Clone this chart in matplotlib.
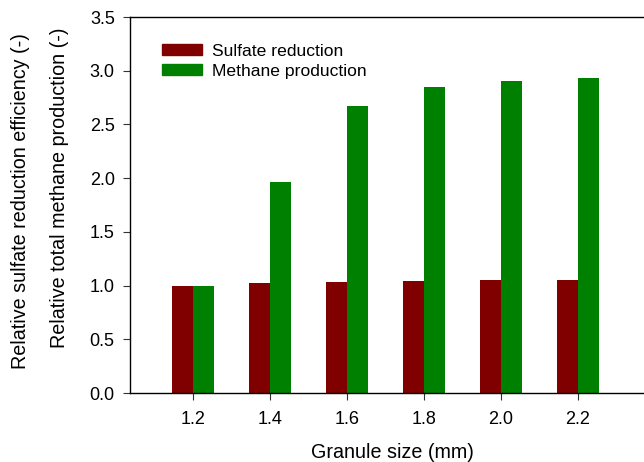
import numpy as np
import matplotlib.pyplot as plt
from matplotlib.patches import Patch

plt.rcParams['font.family'] = ['Liberation Sans', 'DejaVu Sans']

granule_size = [1.2, 1.4, 1.6, 1.8, 2.0, 2.2]
sulfate_reduction = [1.00, 1.02, 1.03, 1.04, 1.05, 1.05]
methane_production = [1.00, 1.96, 2.67, 2.85, 2.90, 2.93]
tick_labels = ['1.2', '1.4', '1.6', '1.8', '2.0', '2.2']

W, H = 644, 462
fig = plt.figure(figsize=(W / 100, H / 100), dpi=100)
# axes box in pixels: left 130, right ~655 (runs off image), top 17, bottom 393
ax = fig.add_axes([130 / W, 1 - 393 / H, (655 - 130) / W, (393 - 17) / H])

x = np.array(granule_size)
bw = 0.055
ax.bar(x - bw / 2, sulfate_reduction, bw, color='#800000', linewidth=0)
ax.bar(x + bw / 2, methane_production, bw, color='#008000', linewidth=0)

ax.set_xlim(1.036, 2.4)
ax.set_ylim(0, 3.5)
ax.set_xticks(granule_size)
ax.set_xticklabels(tick_labels)
ax.set_yticks(np.arange(0, 3.51, 0.5))
ax.set_yticklabels([f'{v:.1f}' for v in np.arange(0, 3.51, 0.5)])
ax.tick_params(axis='both', direction='out', length=5, width=0.8,
               labelsize=13, colors='#333333', labelcolor='black')
ax.tick_params(axis='x', pad=8)
ax.tick_params(axis='y', pad=6)
for s in ax.spines.values():
    s.set_linewidth(1.0)

ax.set_xlabel('Granule size (mm)', fontsize=14.2, labelpad=11)

fig.text(21 / W, 1 - 201 / H, 'Relative sulfate reduction efficiency (-)',
         rotation=90, ha='center', va='center', fontsize=14.2)
fig.text(60 / W, 1 - 188 / H, 'Relative total methane production (-)',
         rotation=90, ha='center', va='center', fontsize=14.2)

handles = [Patch(color='#800000', label='Sulfate reduction'),
           Patch(color='#008000', label='Methane production')]
ax.legend(handles=handles, loc='upper left', bbox_to_anchor=(0.047, 0.948),
          frameon=False, fontsize=12.6, handlelength=2.3, handleheight=0.55,
          handletextpad=0.6, labelspacing=0.3, borderaxespad=0)

fig.savefig('out.png', dpi=100)
